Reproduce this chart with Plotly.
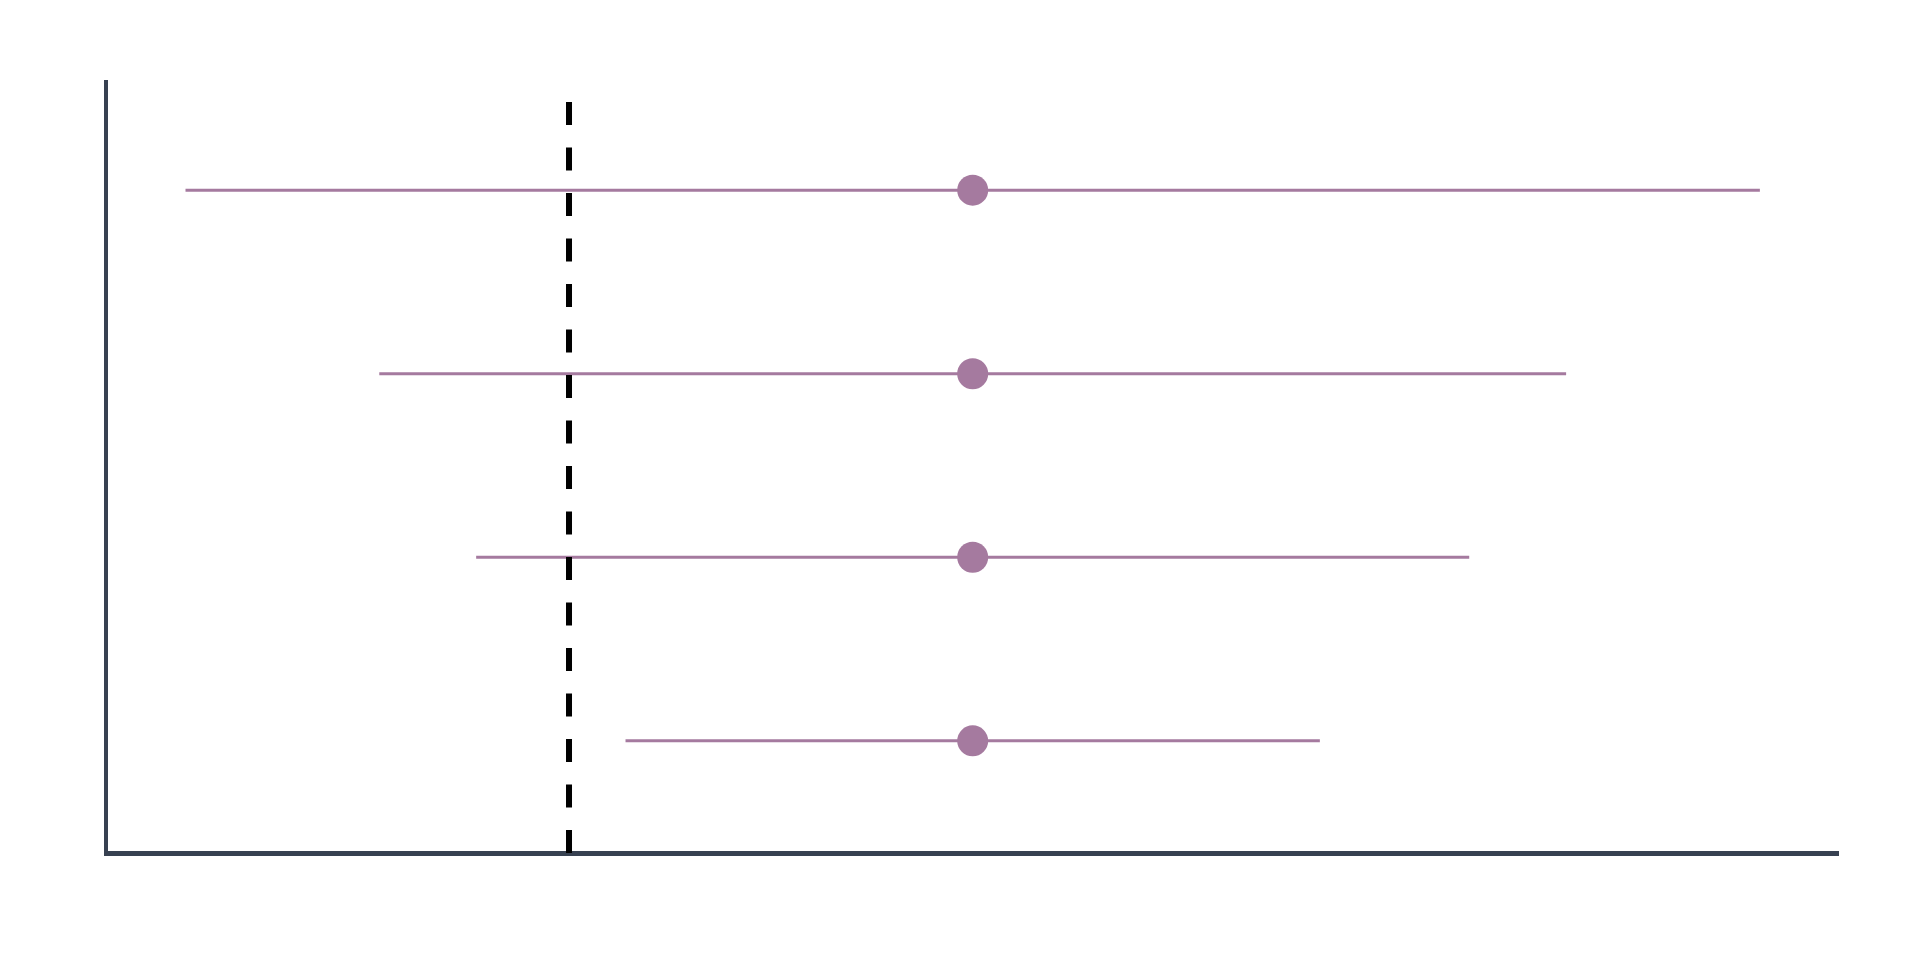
import plotly.graph_objects as go

studies = ["Study 1", "Study 2", "Study 3", "Study 4"]
estimates = [1.0, 1.0, 1.0, 1.0]
ci_half = [1.95, 1.47, 1.23, 0.86]
null_value = 0.0
x_range = [-1.142, 3.146]

color = "#a57a9f"
axis_color = "#374151"

fig = go.Figure()
fig.add_trace(go.Scatter(
    x=estimates, y=studies, mode="markers",
    marker=dict(size=31, color=color, line=dict(width=0)),
    error_x=dict(type="data", array=ci_half, symmetric=True, width=0,
                 thickness=3, color=color),
    showlegend=False,
))

fig.add_shape(type="line", xref="x", yref="paper",
              x0=null_value, x1=null_value, y0=-0.0026, y1=1,
              line=dict(color="black", width=6, dash="23px,22.5px"))

fig.update_layout(
    width=1920, height=960,
    margin=dict(l=100, r=89, t=72, b=117),
    paper_bgcolor="white", plot_bgcolor="white",
    xaxis=dict(range=x_range, showgrid=False, zeroline=False,
               showticklabels=False, ticks="", showline=True,
               linecolor=axis_color, linewidth=5),
    yaxis=dict(type="category", categoryorder="array", categoryarray=studies,
               range=[3.6, -0.6], showgrid=False, zeroline=False,
               showticklabels=False, ticks="", showline=True,
               linecolor=axis_color, linewidth=4),
)

fig.write_html("out.html")
